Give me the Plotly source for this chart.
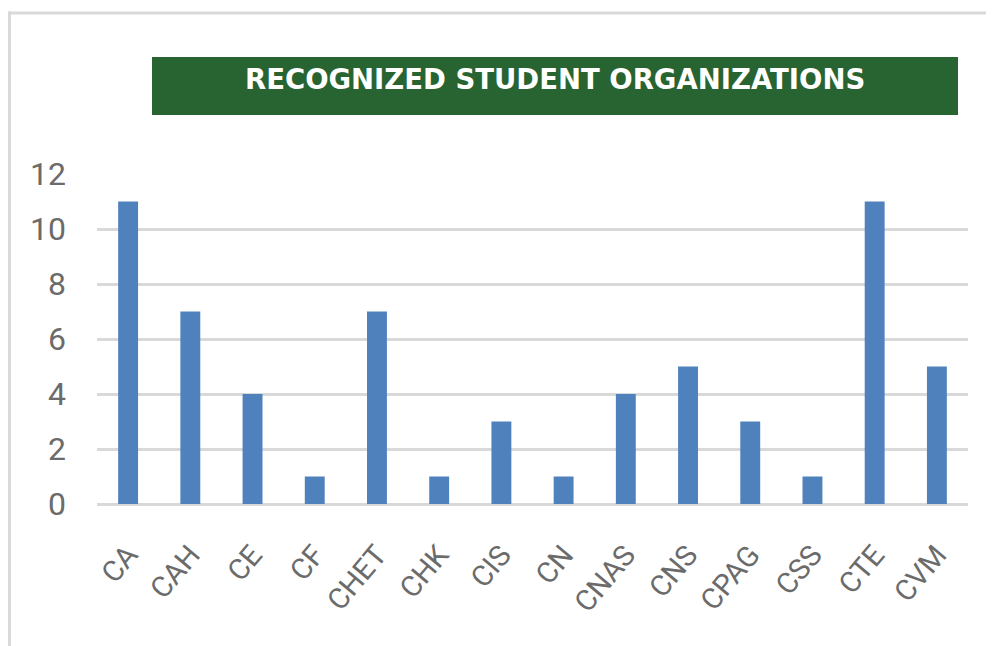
import plotly.graph_objects as go

categories = ["CA", "CAH", "CE", "CF", "CHET", "CHK", "CIS", "CN", "CNAS", "CNS", "CPAG", "CSS", "CTE", "CVM"]
values = [11, 7, 4, 1, 7, 1, 3, 1, 4, 5, 3, 1, 11, 5]
y_ticks = [0, 2, 4, 6, 8, 10, 12]
title_text = "RECOGNIZED STUDENT ORGANIZATIONS"

OFF = 8  # page body margin
W, H = 994 - OFF, 646 - OFF
L, R, T, B = 97 - OFF, 968 - OFF, 174 - OFF, 504 - OFF


def px_x(x):
    return (x - OFF - L) / (R - L)


def px_y(y):
    return (B - (y - OFF)) / (B - T)


fig = go.Figure(
    go.Bar(
        x=categories,
        y=values,
        marker=dict(color="#4F81BD", line=dict(width=0)),
        width=0.32,
    )
)

fig.update_layout(
    width=W,
    height=H,
    margin=dict(l=L, r=W - R, t=T, b=H - B),
    paper_bgcolor="white",
    plot_bgcolor="white",
    showlegend=False,
    font=dict(family="Roboto, Liberation Sans Narrow, sans-serif", color="#595959"),
    xaxis=dict(
        tickangle=-50,
        tickfont=dict(size=29, color="#6b6b6b"),
        showgrid=False,
        showline=False,
        ticks="",
        ticklabelstandoff=27,
    ),
    yaxis=dict(
        range=[0, 12],
        tickvals=y_ticks,
        tickfont=dict(size=32, color="#6b6b6b"),
        showgrid=True,
        gridcolor="#d9d9d9",
        gridwidth=3,
        zeroline=True,
        zerolinecolor="#d9d9d9",
        zerolinewidth=3,
        showline=False,
        ticks="",
        ticklabelstandoff=30,
    ),
    shapes=[
        # outer border (top and left only)
        dict(type="line", xref="paper", yref="paper",
             x0=px_x(8), x1=px_x(994), y0=px_y(13), y1=px_y(13),
             line=dict(color="#d9d9d9", width=3)),
        dict(type="line", xref="paper", yref="paper",
             x0=px_x(9.5), x1=px_x(9.5), y0=px_y(11.5), y1=px_y(646),
             line=dict(color="#d9d9d9", width=3)),
        # title box
        dict(type="rect", xref="paper", yref="paper",
             x0=px_x(152), x1=px_x(958), y0=px_y(57), y1=px_y(115),
             fillcolor="#286432", line=dict(width=0), layer="below"),
    ],
    annotations=[
        dict(text=title_text, xref="paper", yref="paper",
             x=px_x(555), y=px_y(79), xanchor="center", yanchor="middle",
             showarrow=False,
             font=dict(family="DejaVu Sans, sans-serif", size=27.5, color="white", weight="bold")),
    ],
)

fig.write_html("out.html")
